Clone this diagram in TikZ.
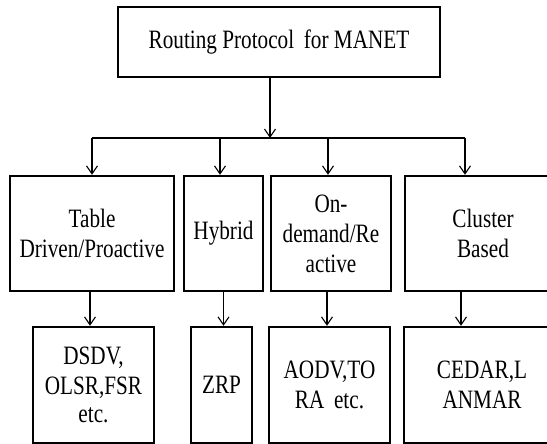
\documentclass[tikz,border=0pt]{standalone}
\usepackage{fontspec}
\setmainfont{Liberation Serif}[FakeStretch=0.8]
\usetikzlibrary{arrows.meta}

\begin{document}
\begin{tikzpicture}[x=1pt,y=-1pt,
  box/.style={draw,line width=2.4pt,inner sep=0pt,align=center,font=\fontsize{26.5}{30}\selectfont},
  arr/.style={line width=1.1pt,-{Straight Barb[length=8pt,width=11pt,line width=1.1pt]}}]
\useasboundingbox (0,0) rectangle (547,444);
\node[box,minimum width=322,minimum height=70] (top) at (279,42) {Routing Protocol\, for MANET};
\node[box,minimum width=164,minimum height=115] (tab) at (92,233.5) {Table\\Driven/Proactive};
\node[box,minimum width=79,minimum height=115] (hyb) at (223.5,233.5) {Hybrid};
\node[box,minimum width=120,minimum height=115] (ond) at (331,233.5) {On-\\demand/Re\\active};
\node[box,minimum width=156,minimum height=115] (clu) at (483,233.5) {Cluster\\Based};
\node[box,minimum width=121,minimum height=116] (dsdv) at (93.5,385) {DSDV,\\OLSR,FSR\\[-2pt]etc.};
\node[box,minimum width=61,minimum height=116] (zrp) at (221.5,385) {ZRP};
\node[box,minimum width=121,minimum height=116] (aodv) at (329.5,385) {AODV,TO\\RA\, etc.};
\node[box,minimum width=156,minimum height=116] (ced) at (482,385) {CEDAR,L\\ANMAR};
\coordinate (bus) at (270,138);
\coordinate (d1) at (92,138);
\coordinate (d2) at (220,138);
\coordinate (d3) at (328,138);
\coordinate (d4) at (465,138);
\draw[arr] (top.south -| bus) -- (bus);
\draw[line width=1.1pt] (d1) -- (d4);
\draw[arr] (d1) -- (d1 |- tab.north);
\draw[arr] (d2) -- (d2 |- hyb.north);
\draw[arr] (d3) -- (d3 |- ond.north);
\draw[arr] (d4) -- (d4 |- clu.north);
\draw[arr] ([xshift=-2]tab.south) -- ([xshift=-2]tab.south |- dsdv.north);
\draw[arr] (hyb.south) -- (hyb.south |- zrp.north);
\draw[arr] ([xshift=-4]ond.south) -- ([xshift=-4]ond.south |- aodv.north);
\draw[arr] ([xshift=-22]clu.south) -- ([xshift=-22]clu.south |- ced.north);
\end{tikzpicture}
\end{document}
